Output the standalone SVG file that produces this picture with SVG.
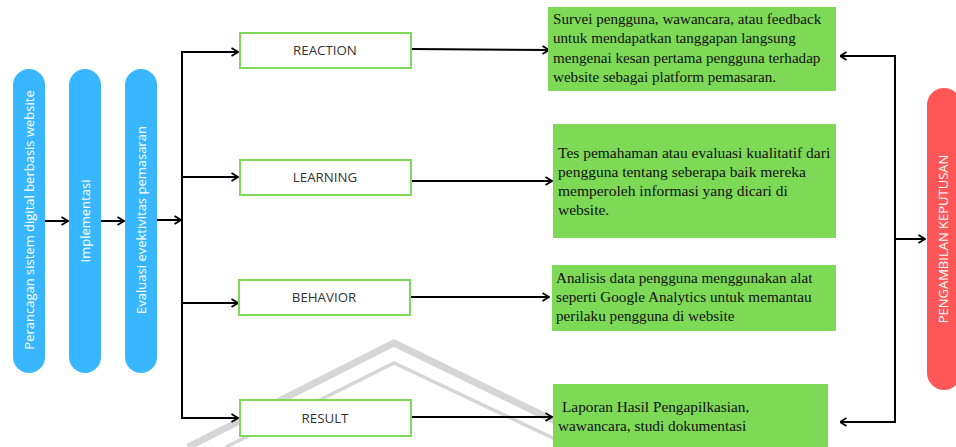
<svg xmlns="http://www.w3.org/2000/svg" width="956" height="447" viewBox="0 0 956 447">
<defs>
<marker id="arr" viewBox="0 0 8 10" refX="7.5" refY="5" markerWidth="8" markerHeight="10" markerUnits="userSpaceOnUse" orient="auto">
<path d="M1,1 L7.5,5 L1,9" fill="none" stroke="#000" stroke-width="1.8"/>
</marker>
</defs>
<style>
.pill{fill:#38b6ff}
.red{fill:#ff5757}
.ptxt{font-family:"Open Sans","DejaVu Sans",sans-serif;font-size:13px;fill:#fff;text-anchor:middle;dominant-baseline:central}
.box{fill:#fff;stroke:#7ed957;stroke-width:2}
.btxt{font-family:"Open Sans","DejaVu Sans",sans-serif;font-size:13.3px;fill:#333;text-anchor:middle;dominant-baseline:central}
.gbox{fill:#7ed957}
.gtxt{font-family:"Liberation Serif","Times New Roman",serif;font-size:15.3px;fill:#111}
.con{fill:none;stroke:#000;stroke-width:2}
.wm{fill:none;stroke:#d6d6d6}
</style>
<g id="watermark">
<polyline class="wm" stroke-width="7" points="188,447 394,343 608,447"/>
<polyline class="wm" stroke-width="3.5" points="226,447 394,363 572,447"/>
</g>
<g id="connectors">
<line class="con" x1="45" y1="221" x2="68" y2="221" marker-end="url(#arr)"/>
<line class="con" x1="101" y1="221" x2="124" y2="221" marker-end="url(#arr)"/>
<line class="con" x1="157" y1="220" x2="181" y2="220" marker-end="url(#arr)"/>
<polyline class="con" points="238,52 182,52 182,418 238,418" marker-end="url(#arr)"/>
<line class="con" x1="182" y1="52" x2="238" y2="52" marker-end="url(#arr)"/>
<line class="con" x1="182" y1="177" x2="238" y2="177" marker-end="url(#arr)"/>
<line class="con" x1="182" y1="303" x2="238" y2="303" marker-end="url(#arr)"/>
<line class="con" x1="412" y1="49" x2="549" y2="50" marker-end="url(#arr)"/>
<line class="con" x1="412" y1="181" x2="552" y2="181" marker-end="url(#arr)"/>
<line class="con" x1="411" y1="297" x2="549" y2="297" marker-end="url(#arr)"/>
<line class="con" x1="411" y1="417" x2="552" y2="417" marker-end="url(#arr)"/>
<polyline class="con" points="840,56 895,56 895,422 840,422" marker-end="url(#arr)"/>
<line class="con" x1="895" y1="56" x2="840" y2="56" marker-end="url(#arr)"/>
<line class="con" x1="895" y1="239" x2="925" y2="239" marker-end="url(#arr)"/>
</g>
<g id="perancangan">
<rect class="pill" x="13" y="69" width="32" height="304" rx="16"/>
<text class="ptxt" transform="translate(29,220) rotate(-90)">Perancagan sistem digital berbasis website</text>
</g>
<g id="implementasi">
<rect class="pill" x="69" y="69" width="32" height="304" rx="16"/>
<text class="ptxt" transform="translate(85,221) rotate(-90)">Implementasi</text>
</g>
<g id="evaluasi">
<rect class="pill" x="125" y="69" width="32" height="304" rx="16"/>
<text class="ptxt" transform="translate(141,220) rotate(-90)">Evaluasi evektivitas pemasaran</text>
</g>
<g id="reaction">
<rect class="box" x="240" y="33" width="171" height="35"/>
<text class="btxt" x="325" y="50">REACTION</text>
</g>
<g id="learning">
<rect class="box" x="240" y="160" width="171" height="35"/>
<text class="btxt" x="325" y="177">LEARNING</text>
</g>
<g id="behavior">
<rect class="box" x="239" y="280" width="171" height="35"/>
<text class="btxt" x="324" y="297">BEHAVIOR</text>
</g>
<g id="result">
<rect class="box" x="240" y="400" width="171" height="36"/>
<text class="btxt" x="325" y="418">RESULT</text>
</g>
<g id="reaction-desc">
<rect class="gbox" x="548" y="7" width="288" height="84"/>
<text class="gtxt" style="font-size:15.1px"><tspan x="553" y="24">Survei pengguna, wawancara, atau feedback</tspan><tspan x="553" y="43">untuk mendapatkan tanggapan langsung</tspan><tspan x="553" y="63">mengenai kesan pertama pengguna terhadap</tspan><tspan x="553" y="82">website sebagai platform pemasaran.</tspan></text>
</g>
<g id="learning-desc">
<rect class="gbox" x="553" y="124" width="283" height="114"/>
<text class="gtxt" style="font-size:15.5px"><tspan x="558" y="158">Tes pemahaman atau evaluasi kualitatif dari</tspan><tspan x="558" y="177">pengguna tentang seberapa baik mereka</tspan><tspan x="558" y="196">memperoleh informasi yang dicari di</tspan><tspan x="558" y="215">website.</tspan></text>
</g>
<g id="behavior-desc">
<rect class="gbox" x="552" y="265" width="284" height="66"/>
<text class="gtxt" style="font-size:15.2px"><tspan x="556" y="283">Analisis data pengguna menggunakan alat</tspan><tspan x="556" y="302">seperti Google Analytics untuk memantau</tspan><tspan x="556" y="321">perilaku pengguna di website</tspan></text>
</g>
<g id="result-desc">
<rect class="gbox" x="553" y="384" width="275" height="70"/>
<text class="gtxt"><tspan x="562" y="412">Laporan Hasil Pengapilkasian,</tspan><tspan x="558" y="431">wawancara, studi dokumentasi</tspan></text>
</g>
<g id="keputusan">
<rect class="red" x="927" y="88" width="34" height="302" rx="17"/>
<text class="ptxt" transform="translate(943,239) rotate(-90)">PENGAMBILAN KEPUTUSAN</text>
</g>
</svg>
